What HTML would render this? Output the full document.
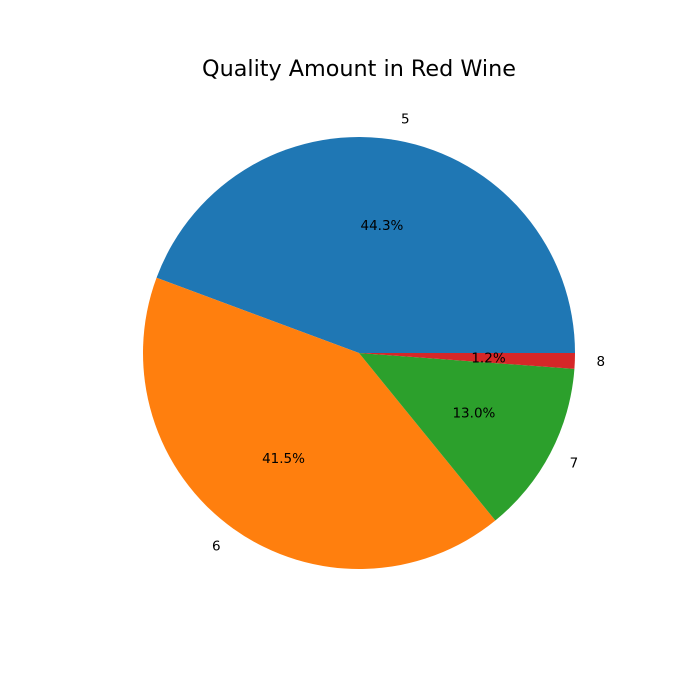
<!DOCTYPE html>
<html><head><meta charset="utf-8"><style>
html,body{margin:0;padding:0;background:#fff;}
svg{display:block;font-family:"DejaVu Sans","Liberation Sans",sans-serif;}
</style></head><body>
<svg id="chart" width="700" height="700" viewBox="0 0 700 700">
<rect width="700" height="700" fill="#fff"/>
<text x="359" y="76" text-anchor="middle" font-size="22.3" fill="#000">Quality Amount in Red Wine</text>
<g id="slices"></g>
</svg>
<script>
const categories = ["5", "6", "7", "8"];
const counts = [681, 638, 199, 18];
const colors = ["#1f77b4", "#ff7f0e", "#2ca02c", "#d62728"];
const cx = 359, cy = 353, r = 216;
const ns = "http://www.w3.org/2000/svg";
const g = document.getElementById("slices");
const total = counts.reduce((a, b) => a + b, 0);
function pt(a, rad) { return [cx + rad * Math.cos(a), cy - rad * Math.sin(a)]; }
let start = 0;
counts.forEach((v, i) => {
  const frac = v / total;
  const end = start + frac * 2 * Math.PI;
  const [x1, y1] = pt(start, r), [x2, y2] = pt(end, r);
  const large = frac > 0.5 ? 1 : 0;
  const p = document.createElementNS(ns, "path");
  p.setAttribute("d", `M${cx},${cy} L${x1},${y1} A${r},${r} 0 ${large} 0 ${x2},${y2} Z`);
  p.setAttribute("fill", colors[i]);
  
  
  g.appendChild(p);
  const mid = (start + end) / 2;
  const [lx, ly] = pt(mid, r * 1.1);
  const t = document.createElementNS(ns, "text");
  t.setAttribute("x", lx); t.setAttribute("y", ly + 4.5);
  t.setAttribute("font-size", "13.5");
  t.setAttribute("text-anchor", Math.cos(mid) >= 0 ? "start" : "end");
  t.textContent = categories[i];
  
  
  g.appendChild(t);
  const [px, py] = pt(mid, r * 0.6);
  const pc = document.createElementNS(ns, "text");
  pc.setAttribute("x", px); pc.setAttribute("y", py + 4.5);
  pc.setAttribute("font-size", "13.5");
  pc.setAttribute("text-anchor", "middle");
  pc.textContent = (frac * 100).toFixed(1) + "%";
  
  
  g.appendChild(pc);
  start = end;
});
</script>
</body></html>
